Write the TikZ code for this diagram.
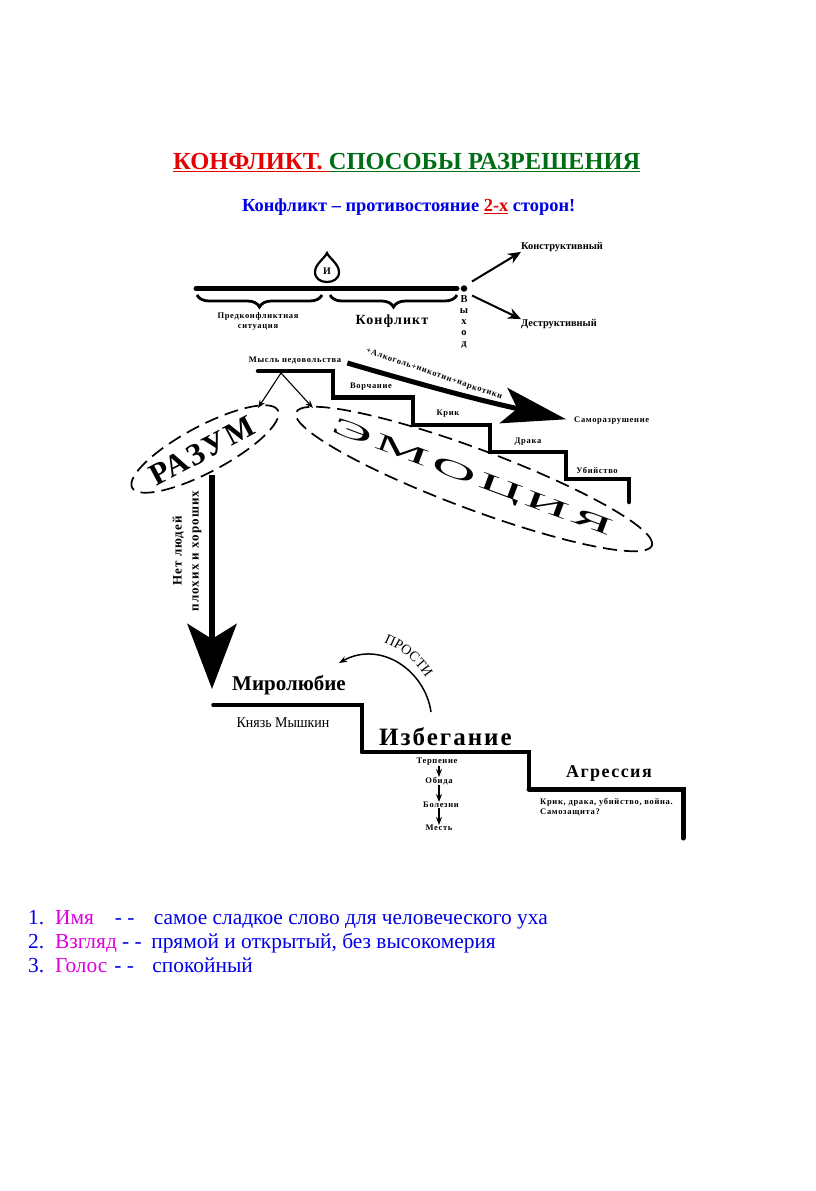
\documentclass[tikz,border=0pt]{standalone}
\usepackage{fontspec}
\setmainfont{Liberation Serif}
\newfontfamily\widefont[LetterSpace=8]{Liberation Serif}
\newfontfamily\widerfont[LetterSpace=18]{Liberation Serif}
\usetikzlibrary{positioning, arrows.meta, shapes.geometric, decorations.pathreplacing, decorations.text}

\definecolor{titlered}{RGB}{230,0,0}
\definecolor{titlegreen}{RGB}{0,110,20}
\definecolor{textblue}{RGB}{0,0,230}
\definecolor{namemagenta}{RGB}{220,0,220}

\begin{document}
\begin{tikzpicture}[
        x=1pt,
        y=-1pt,
        every node/.style={
            inner sep=0pt,
            align=center
        },
        small/.style={
            font=\fontsize{8.5}{10}\selectfont\bfseries\widefont
        },
        medium/.style={
            font=\fontsize{10.4}{12}\selectfont\bfseries
        },
        item/.style={
            anchor=base west,
            text=textblue,
            font=\fontsize{21.4}{24}\selectfont
        },
        brace/.style={
            decorate,
            decoration={brace, mirror, amplitude=12pt},
            line width=2.8pt
        },
        stair/.style={
            line width=4.5pt,
            line join=miter,
            line cap=round
        },
        arrow/.style={
            -{Stealth[length=13pt, width=11pt]},
            line width=2pt
        },
        thinarrow/.style={
            -{Stealth[length=8pt, width=6pt]},
            line width=1.1pt
        },
        dashring/.style={
            draw,
            dashed,
            dash pattern=on 14pt off 7pt,
            line width=1.7pt,
            ellipse
        }
    ]

    \useasboundingbox (0,0) rectangle (816,1191);

    % Заголовок

    \node[anchor=west, font=\fontsize{24.5}{26}\selectfont\bfseries] (title) at (173,163)
    {\textcolor{titlered}{\underline{КОНФЛИКТ. }}\textcolor{titlegreen}{\underline{СПОСОБЫ РАЗРЕШЕНИЯ}}};

    \node[anchor=west, text=textblue, font=\fontsize{18.4}{20}\selectfont\bfseries] (subtitle) at (242,207)
    {Конфликт – противостояние \textcolor{titlered}{\underline{2-х}} сторон!};

    % Верхняя линия

    \coordinate (barstart) at (196,288.5);
    \coordinate (barend) at (457,288.5);
    \draw[line width=5pt, line cap=round] (barstart) -- (barend);
    \node[circle, fill, minimum size=6.5pt] (exitdot) at (464,288.5) {};

    \node[font=\fontsize{10}{10}\selectfont\bfseries] (drop) at (327,271) {И};
    \draw[line width=2.2pt] (327,253) .. controls (329,258) and (339,264) .. (339,272)
        .. controls (339,279) and (333,282) .. (327,282)
        .. controls (321,282) and (315,279) .. (315,272)
        .. controls (315,264) and (325,258) .. (327,253) -- cycle;

    \draw[brace] (197,295) -- (322,295);
    \draw[brace] (330,295) -- (457,295);

    \node[small] (before) at (258,321) {Предконфликтная\\ситуация};
    \node[font=\fontsize{14}{16}\selectfont\bfseries\widefont] (conflict) at (392,321) {Конфликт};

    \node[font=\fontsize{10.5}{11}\selectfont\bfseries, below=3pt of exitdot] (exit) {В\\ы\\х\\о\\д};

    \node[medium, anchor=west] (constructive) at (521,247) {Конструктивный};
    \node[medium, anchor=west] (destructive) at (521,324) {Деструктивный};

    \draw[arrow] (exitdot) ++(8,-7) -- (constructive.south west);
    \draw[arrow] (exitdot) ++(8,7) -- (destructive.north west);

    % Верхняя лестница

    \draw[stair] (258,371) -- (333,371) -- (333,397.5) -- (413,397.5) -- (413,425)
        -- (490,425) -- (490,452) -- (566,452) -- (566,479) -- (629,479) -- (629,502);

    \node[small] (thought) at (295,360) {Мысль недовольства};
    \node[small] (grumble) at (371,387) {Ворчание};
    \node[small] (shout) at (448,414) {Крик};
    \node[small] (fight) at (528,442) {Драка};
    \node[small] (murder) at (597,470) {Убийство};
    \node[small, anchor=west] (selfharm) at (574,421) {Саморазрушение};
    \node[small, rotate=-19] (addiction) at (434,374) {+Алкоголь+никотин+наркотики};

    \draw[-{Stealth[length=64pt, width=36pt, inset=14pt]}, line width=5pt, shorten >=8pt]
        (thought.east) ++(6,3) to[bend right=2] (selfharm.west);

    % Разум и эмоция

    \coordinate (fork) at (281,373);
    \coordinate (reasonin) at (258,408);
    \coordinate (emotionin) at (313,408);
    \node[dashring, minimum width=165pt, minimum height=46pt, rotate=28] (reason) at (205,449) {};
    \node[font=\fontsize{31}{31}\selectfont\bfseries\widefont, rotate=28] (reasontext) at (202,451) {РАЗУМ};

    \node[dashring, minimum width=380pt, minimum height=60pt, rotate=-20.5] (emotion) at (474,479) {};
    \node[font=\fontsize{24}{24}\selectfont\widefont, rotate=-20.5, xscale=2.6] (emotiontext) at (472,479) {ЭМОЦИЯ};

    \draw[thinarrow] (fork) -- (reasonin);
    \draw[thinarrow] (fork) -- (emotionin);

    % Нижняя лестница

    \coordinate (peacestart) at (212,475);
    \node[font=\fontsize{21}{24}\selectfont\bfseries, anchor=west] (peace) at (232,685) {Миролюбие};
    \draw[-{Stealth[length=65pt, width=49pt, inset=15pt]}, line width=6.5pt] (peacestart) -- (212,689);

    \node[font=\fontsize{13}{17}\selectfont\bfseries\widefont, rotate=90] (people) at (187,551)
    {Нет людей\\плохих и хороших};

    \draw[line width=3.5pt, line cap=round] (213,705) -- (362,705) -- (362,752);
    \draw[line width=4.5pt, line cap=round] (362,752) -- (529,752) -- (529,789);
    \draw[line width=5pt, line cap=round] (529,789) -- (683,789) -- (683,838);

    \node[font=\fontsize{15}{17}\selectfont, xscale=.93] (myshkin) at (283,723) {Князь Мышкин};
    \node[font=\fontsize{25}{26}\selectfont\bfseries\widefont, anchor=west] (avoid) at (379,737) {Избегание};
    \node[font=\fontsize{18}{20}\selectfont\bfseries\widefont, anchor=west] (aggression) at (566,773) {Агрессия};

    \node[small] (patience) at (437,762) {Терпение};
    \node[small] (offence) at (439,781) {Обида};
    \node[small] (illness) at (441,805) {Болезни};
    \node[small] (revenge) at (439,828) {Месть};

    \draw[thinarrow] (patience.south -| revenge) -- (offence.north -| revenge);
    \draw[thinarrow] (offence.south -| revenge) -- (illness.north -| revenge);
    \draw[thinarrow] (illness.south -| revenge) -- (revenge);

    \node[small, anchor=west, align=left, font=\fontsize{8.5}{10.5}\selectfont\bfseries\widefont] (scream) at (540,807)
    {Крик, драка, убийство, война.\\Самозащита?};

    % Прости

    \coordinate (forgivestart) at (431,712);
    \coordinate (forgiveend) at (339,663);
    \draw[thinarrow, line width=1.5pt] (forgivestart) .. controls (425,670) and (380,640) .. (forgiveend);
    \path[decorate, decoration={text along path,
        text={|\fontsize{14}{14}\selectfont\widerfont|ПРОСТИ}, text align=center}]
        (376,640) .. controls (400,646) and (420,665) .. (430,685);

    % Список

    \node[item] (first) at (28,924.5) {1.\hspace{10.8pt}\textcolor{namemagenta}{Имя}\hspace{21pt}- -\hspace{19.5pt}самое сладкое слово для человеческого уха};
    \node[item] (second) at (28,948.5) {2.\hspace{10.8pt}\textcolor{namemagenta}{Взгляд} - -\hspace{9.5pt}прямой и открытый, без высокомерия};
    \node[item] (third) at (28,972.5) {3.\hspace{10.8pt}\textcolor{namemagenta}{Голос}\hspace{7pt}- -\hspace{18.5pt}спокойный};

\end{tikzpicture}
\end{document}
